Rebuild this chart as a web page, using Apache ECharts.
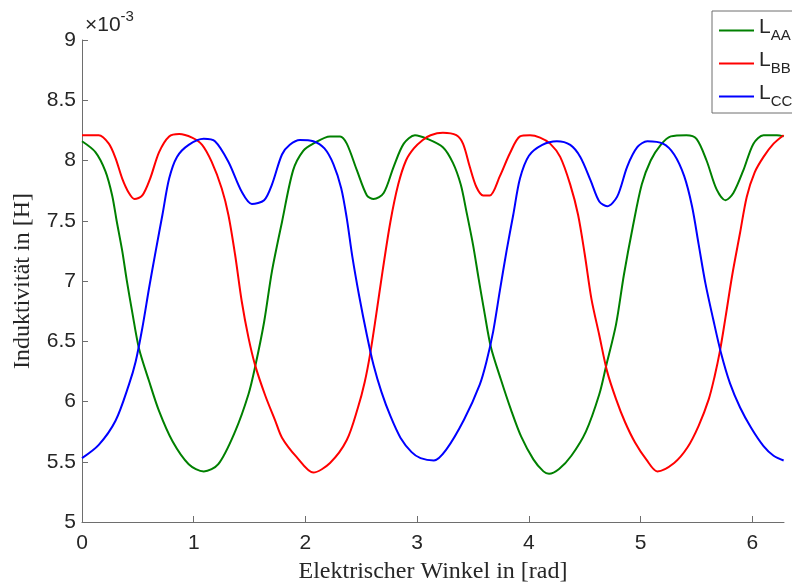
<!DOCTYPE html>
<html>
<head>
<meta charset="utf-8">
<script src="https://cdn.jsdelivr.net/npm/echarts@6/dist/echarts.min.js"></script>
<style>
  html, body { margin: 0; padding: 0; background: #fff; }
  #chart { width: 792px; height: 587px; }
</style>
</head>
<body>
<div id="chart"></div>
<script>
// Inductances in units of 1e-3 H versus electrical angle in rad
const angleAA = [0, 0.12, 0.21, 0.27, 0.31, 0.36, 0.40, 0.45, 0.51, 0.60, 0.69, 0.81, 0.955, 1.09, 1.22, 1.37, 1.49, 1.55, 1.63, 1.70, 1.79, 1.89, 1.98, 2.07, 2.22, 2.31, 2.37, 2.46, 2.55, 2.61, 2.70, 2.79, 2.88, 2.98, 3.09, 3.23, 3.32, 3.39, 3.44, 3.50, 3.55, 3.60, 3.66, 3.75, 3.84, 3.93, 4.04, 4.13, 4.18, 4.27, 4.38, 4.51, 4.63, 4.69, 4.78, 4.85, 4.93, 5.01, 5.09, 5.18, 5.27, 5.41, 5.50, 5.59, 5.68, 5.76, 5.83, 5.92, 6.01, 6.10, 6.22, 6.28];
const valuesAA = [8.16, 8.07, 7.91, 7.71, 7.50, 7.25, 7.01, 6.74, 6.44, 6.17, 5.92, 5.67, 5.48, 5.42, 5.48, 5.75, 6.06, 6.29, 6.66, 7.08, 7.49, 7.92, 8.08, 8.14, 8.20, 8.20, 8.14, 7.92, 7.71, 7.68, 7.73, 7.95, 8.14, 8.21, 8.18, 8.11, 7.98, 7.80, 7.58, 7.30, 7.02, 6.75, 6.45, 6.18, 5.93, 5.71, 5.52, 5.42, 5.40, 5.44, 5.55, 5.75, 6.06, 6.29, 6.64, 7.05, 7.45, 7.80, 8.00, 8.13, 8.20, 8.21, 8.18, 8.00, 7.76, 7.67, 7.73, 7.92, 8.14, 8.21, 8.21, 8.20];

const angleBB = [0, 0.15, 0.24, 0.30, 0.36, 0.42, 0.47, 0.54, 0.61, 0.69, 0.78, 0.87, 0.985, 1.075, 1.16, 1.25, 1.31, 1.37, 1.43, 1.49, 1.55, 1.64, 1.73, 1.79, 1.92, 2.07, 2.22, 2.37, 2.47, 2.53, 2.58, 2.63, 2.69, 2.76, 2.83, 2.90, 2.97, 3.05, 3.12, 3.23, 3.35, 3.41, 3.47, 3.53, 3.59, 3.65, 3.74, 3.83, 3.92, 4.01, 4.10, 4.19, 4.28, 4.37, 4.44, 4.50, 4.56, 4.63, 4.70, 4.78, 4.86, 4.95, 5.05, 5.15, 5.30, 5.42, 5.52, 5.61, 5.66, 5.71, 5.76, 5.82, 5.89, 5.95, 6.02, 6.10, 6.19, 6.28];
const valuesBB = [8.21, 8.21, 8.14, 8.02, 7.85, 7.73, 7.68, 7.71, 7.85, 8.07, 8.20, 8.22, 8.19, 8.13, 7.99, 7.77, 7.55, 7.22, 6.83, 6.53, 6.30, 6.05, 5.84, 5.70, 5.54, 5.41, 5.49, 5.68, 5.95, 6.16, 6.40, 6.70, 7.08, 7.49, 7.80, 8.00, 8.10, 8.17, 8.21, 8.23, 8.21, 8.14, 7.95, 7.78, 7.71, 7.71, 7.87, 8.06, 8.20, 8.21, 8.19, 8.14, 8.03, 7.80, 7.55, 7.22, 6.85, 6.55, 6.25, 6.02, 5.83, 5.66, 5.52, 5.42, 5.49, 5.62, 5.80, 6.02, 6.20, 6.42, 6.70, 7.05, 7.40, 7.70, 7.90, 8.03, 8.14, 8.21];

const angleCC = [0, 0.15, 0.30, 0.42, 0.48, 0.54, 0.60, 0.66, 0.72, 0.78, 0.85, 0.955, 1.09, 1.19, 1.31, 1.43, 1.52, 1.63, 1.70, 1.79, 1.86, 1.95, 2.07, 2.17, 2.25, 2.32, 2.37, 2.42, 2.48, 2.55, 2.61, 2.68, 2.76, 2.85, 2.95, 3.03, 3.15, 3.26, 3.42, 3.56, 3.62, 3.68, 3.74, 3.80, 3.86, 3.92, 4.00, 4.12, 4.25, 4.37, 4.46, 4.55, 4.63, 4.70, 4.79, 4.88, 4.97, 5.06, 5.20, 5.30, 5.39, 5.46, 5.52, 5.58, 5.65, 5.72, 5.80, 5.89, 5.99, 6.10, 6.19, 6.28];
const valuesCC = [5.53, 5.64, 5.84, 6.14, 6.33, 6.61, 6.94, 7.25, 7.55, 7.85, 8.03, 8.13, 8.18, 8.16, 7.99, 7.74, 7.64, 7.67, 7.80, 8.05, 8.13, 8.17, 8.16, 8.10, 7.97, 7.77, 7.52, 7.20, 6.88, 6.55, 6.30, 6.08, 5.88, 5.70, 5.58, 5.53, 5.51, 5.60, 5.85, 6.14, 6.33, 6.58, 6.92, 7.25, 7.55, 7.85, 8.04, 8.13, 8.16, 8.13, 8.03, 7.84, 7.66, 7.62, 7.70, 7.95, 8.11, 8.16, 8.14, 8.05, 7.87, 7.62, 7.30, 6.98, 6.68, 6.40, 6.15, 5.95, 5.78, 5.63, 5.55, 5.51];

const seriesNames = ['AA', 'BB', 'CC'];
const seriesColors = ['#008000', '#ff0000', '#0000ff'];
const xTicks = [0, 1, 2, 3, 4, 5, 6];
const yTicks = [5, 5.5, 6, 6.5, 7, 7.5, 8, 8.5, 9];

const zip = (xs, ys) => xs.map((x, i) => [x, ys[i]]);
const curves = [zip(angleAA, valuesAA), zip(angleBB, valuesBB), zip(angleCC, valuesCC)];

const chart = echarts.init(document.getElementById('chart'), null, { renderer: 'canvas' });

const sans = 'Liberation Sans, Arial, sans-serif';
const tickFont = { fontFamily: sans, fontSize: 21, color: '#262626' };
const titleFont = { fontFamily: 'Liberation Serif, serif', fontSize: 24, color: '#262626' };
const axisGray = '#6e6e6e';

chart.setOption({
  animation: false,
  backgroundColor: '#ffffff',
  grid: { left: 82, right: 8, top: 40, bottom: 65, containLabel: false, outerBoundsMode: 'none' },
  xAxis: {
    type: 'value',
    min: 0,
    max: 2 * Math.PI,
    interval: 1,
    name: 'Elektrischer Winkel in [rad]',
    nameLocation: 'middle',
    nameGap: 38,
    nameTextStyle: titleFont,
    axisLine: { show: true, lineStyle: { color: axisGray, width: 1 } },
    axisTick: { show: true, inside: true, length: 6, customValues: xTicks, lineStyle: { color: axisGray } },
    axisLabel: Object.assign({ customValues: xTicks, margin: 11, formatter: v => String(v) }, tickFont),
    splitLine: { show: false }
  },
  yAxis: {
    type: 'value',
    min: 5,
    max: 9,
    interval: 0.5,
    name: 'Induktivität in [H]',
    nameLocation: 'middle',
    nameGap: 47,
    nameTextStyle: titleFont,
    axisLine: { show: true, lineStyle: { color: axisGray, width: 1 } },
    axisTick: { show: true, inside: true, length: 6, customValues: yTicks, lineStyle: { color: axisGray } },
    axisLabel: Object.assign({ customValues: yTicks, margin: 6, formatter: v => String(v) }, tickFont),
    splitLine: { show: false }
  },
  legend: {
    left: 712,
    top: 11,
    orient: 'vertical',
    icon: 'rect',
    itemWidth: 35,
    itemHeight: 2,
    itemGap: 7,
    padding: [6, 12, 4, 7],
    borderColor: axisGray,
    borderWidth: 1,
    backgroundColor: '#ffffff',
    data: seriesNames.map(n => 'L' + n),
    formatter: name => '{l|L}{s|' + name.slice(1) + '}',
    textStyle: {
      rich: {
        l: { fontFamily: sans, fontSize: 21, color: '#262626', padding: [0, 0, 6, 0] },
        s: { fontFamily: sans, fontSize: 15, color: '#262626', padding: [10, 0, 0, 0] }
      }
    }
  },
  graphic: [{
    type: 'text',
    left: 85,
    top: 9,
    style: {
      text: '{m|×10}{e|-3}',
      rich: {
        m: { fontFamily: sans, fontSize: 21, fill: '#262626', padding: [10, 0, 0, 0] },
        e: { fontFamily: sans, fontSize: 15, fill: '#262626', padding: [0, 0, 8, 0] }
      }
    }
  }],
  series: curves.map((data, i) => ({
    name: 'L' + seriesNames[i],
    type: 'line',
    data: data,
    symbol: 'none',
    smooth: 0.3,
    lineStyle: { color: seriesColors[i], width: 2 },
    itemStyle: { color: seriesColors[i] }
  }))
});
</script>
</body>
</html>
